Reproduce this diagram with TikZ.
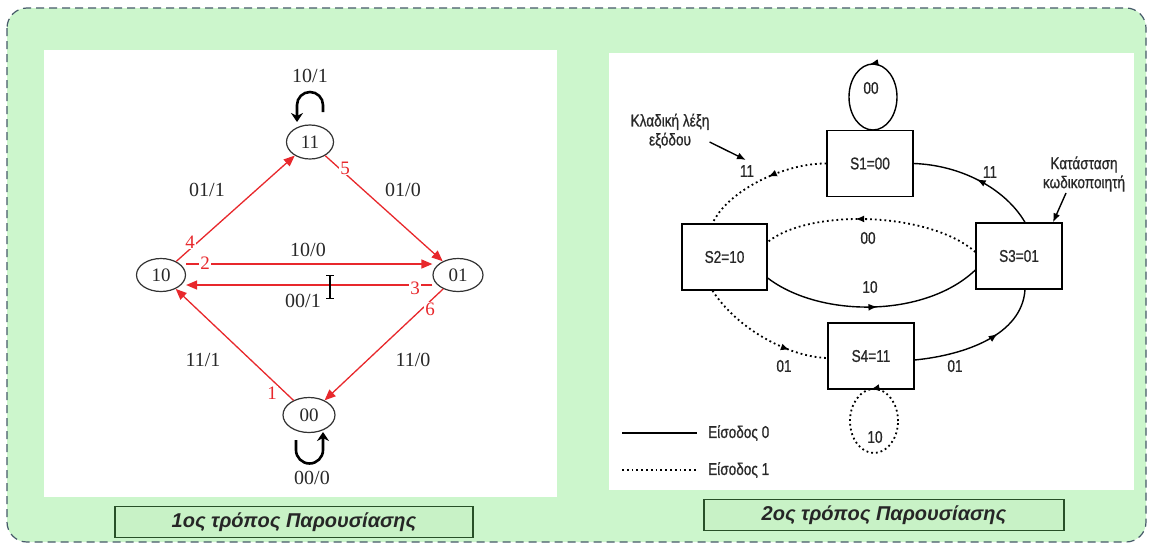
\documentclass[tikz,border=0pt]{standalone}
\usepackage{fontspec}
\setmainfont{Liberation Serif}
\newfontfamily\nar[FakeStretch=0.8,FakeBold=0.8]{Liberation Sans}
\newfontfamily\capf{Liberation Sans}
\usetikzlibrary{shapes.geometric,arrows.meta,decorations.markings,calc}
\definecolor{bggreen}{RGB}{204,246,204}
\definecolor{capgreen}{RGB}{200,242,198}
\definecolor{capedge}{RGB}{40,80,40}
\definecolor{frameclr}{RGB}{70,90,105}
\definecolor{myred}{RGB}{232,40,44}
\definecolor{lblc}{RGB}{40,40,40}
\tikzset{
  st/.style={ellipse, draw=black!80, line width=1.2pt, minimum width=49pt, minimum height=33pt, inner sep=0pt, font=\fontsize{19}{21}\selectfont, text=lblc},
  redarr/.style={draw=myred, line width=1.3pt, -{Triangle[length=11pt,width=9pt]}},
  rnum/.style={text=myred, fill=white, inner sep=1pt, font=\fontsize{19}{21}\selectfont},
  elbl/.style={text=lblc, font=\fontsize{20}{22}\selectfont},
  loopl/.style={line width=2.6pt, -{Stealth[length=9pt,width=12pt]}},
  sbox/.style={draw, line width=1.3pt, fill=white, minimum width=86pt, minimum height=66pt, inner sep=0pt, text=lblc, font=\nar\fontsize{17}{19}\selectfont},
  rlbl/.style={text=lblc, font=\nar\fontsize{17}{19}\selectfont},
  solidE/.style={line width=1.4pt},
  dotE/.style={line width=1.8pt, dash pattern=on 1.8pt off 3pt},
  midarr/.style={postaction={decorate}, decoration={markings, mark=at position #1 with {\arrow{Latex[length=9pt,width=7pt]}}}},
  capbox/.style={draw=capedge, line width=1.2pt, fill=capgreen, inner sep=0pt, font=\capf\bfseries\itshape\fontsize{20}{22}\selectfont, text=black!85}
}
\begin{document}
\begin{tikzpicture}[x=1pt,y=-1pt]
\useasboundingbox (0,0) rectangle (1151,544);
\fill[white] (0,0) rectangle (1151,544);
% outer frame
\draw[frameclr, line width=1.2pt, dash pattern=on 8pt off 5pt, fill=bggreen, rounded corners=20pt] (7,8) rectangle (1146,542);
% panels
\fill[white] (44,50) rectangle (557,497);
\fill[white] (609,53) rectangle (1134,490);
% captions
\node[capbox, minimum width=358pt, minimum height=31pt] (cap1) at (294,522) {1ος τρόπος Παρουσίασης};
\node[capbox, minimum width=360pt, minimum height=31pt] (cap2) at (884,515) {2ος τρόπος Παρουσίασης};

% ---------- left diagram ----------
\node[st, minimum width=47pt, minimum height=34pt] (n11) at (310,142) {11};
\node[st] (n10) at (161,275) {10};
\node[st, minimum width=50pt] (n01) at (458,275) {01};
\node[st, minimum width=52pt, minimum height=35pt] (n00) at (309,415) {00};

\draw[redarr] (n10) -- (n11);
\draw[redarr] (n11) -- (n01);
\draw[redarr] ([yshift=11pt]n10.east) -- ([yshift=11pt]n01.west);
\draw[redarr] ([yshift=-10pt]n01.west) -- ([yshift=-10pt]n10.east);
\draw[redarr] (n00) -- (n10);
\draw[redarr] (n01) -- (n00);

\node[rnum] (r4) at (190,242) {4};
\node[rnum] (r5) at (345,168) {5};
\node[rnum] (r2) at (205,263) {2};
\node[rnum] (r3) at (415,288) {3};
\node[rnum] (r1) at (272,393) {1};
\node[rnum] (r6) at (430,309) {6};

\node[elbl] (l11) at (310,76) {10/1};
\node[elbl] (l41) at (207,190) {01/1};
\node[elbl] (l50) at (403,190) {01/0};
\node[elbl] (l20) at (308,250) {10/0};
\node[elbl] (l31) at (303,301) {00/1};
\node[elbl] (l61) at (203,360) {11/1};
\node[elbl] (l60) at (413,360) {11/0};
\node[elbl] (l00) at (312,478) {00/0};

% self loops
\coordinate (a11) at (323,112);
\coordinate (b11) at (297,122);
\draw[loopl] (a11) -- (323,105) arc[start angle=0, end angle=-180, radius=13] -- (b11);
\coordinate (a00) at (296,440);
\coordinate (b00) at (323,432);
\draw[loopl] (a00) -- (296,450) arc[start angle=180, end angle=0, radius=13.5] -- (b00);

% text cursor
\coordinate (ib1) at (330,275);
\coordinate (ib2) at (330,298);
\draw[line width=1.2pt] (ib1) -- (ib2);
\draw[line width=1pt] (326,275) -- (334,275) (326,298) -- (334,298);

% ---------- right diagram ----------
\node[sbox] (s1) at (870,163.5) {S1=00};
\node[sbox, minimum width=85pt] (s2) at (724.5,257) {S2=10};
\node[sbox] (s3) at (1019,256) {S3=01};
\node[sbox] (s4) at (871,356) {S4=11};

% loops
\coordinate (lc1) at (873,97);
\draw[solidE, midarr=0.27] ($(lc1)+(24,0)$) arc[start angle=0, end angle=-360, x radius=24, y radius=33];
\coordinate (lc4) at (874,421);
\draw[dotE, midarr=0.27] ($(lc4)+(24,0)$) arc[start angle=0, end angle=-360, x radius=24, y radius=32];
\node[rlbl] (lp1) at (871,88) {00};
\node[rlbl] (lp4) at (875,437) {10};

% transitions
\draw[dotE, midarr=0.45] (s1.west) .. controls (785,163) and (728,190) .. ([xshift=-12pt]s2.north);
\draw[solidE, midarr=0.5] ([xshift=6pt]s3.north) .. controls (1005,188) and (960,165) .. (s1.east);
\draw[dotE, midarr=0.58] ([yshift=4pt]s3.west) .. controls (930,212) and (810,208) .. ([yshift=15pt]s2.east);
\draw[solidE, midarr=0.52] ([yshift=-21pt]s2.east) .. controls (820,318) and (925,318) .. ([yshift=-14pt]s3.west);
\draw[dotE, midarr=0.72] ([xshift=-12pt]s2.south) .. controls (738,330) and (790,357) .. ([yshift=-2pt]s4.west);
\draw[solidE, midarr=0.62] ([yshift=-4pt]s4.east) .. controls (965,355) and (1022,335) .. ([xshift=6pt]s3.south);

\node[rlbl] (t1) at (747,171) {11};
\node[rlbl] (t2) at (990,172) {11};
\node[rlbl] (t3) at (868,238) {00};
\node[rlbl] (t4) at (870,287) {10};
\node[rlbl] (t5) at (784,366) {01};
\node[rlbl] (t6) at (955,366) {01};

% annotations
\node[rlbl, align=center, inner sep=0pt] (ann1) at (670,131) {Κλαδική λέξη\\εξόδου};
\coordinate (ann1e) at (746,160);
\draw[line width=1.4pt, -{Latex[length=9pt,width=7pt]}] (ann1.east |- 0,142) -- (ann1e);
\node[rlbl, align=center, inner sep=0pt] (ann2) at (1084,174) {Κατάσταση\\κωδικοποιητή};
\draw[line width=1.4pt, -{Latex[length=9pt,width=7pt]}] (1066,193) -- ([xshift=34pt]s3.north);

% legend
\coordinate (lg1a) at (622,433);
\coordinate (lg1b) at (697,433);
\coordinate (lg2a) at (622,470);
\coordinate (lg2b) at (697,470);
\draw[solidE] (lg1a) -- (lg1b);
\draw[dotE] (lg2a) -- (lg2b);
\node[rlbl, anchor=west, inner sep=0pt] (lgt1) at (708,433) {Είσοδος 0};
\node[rlbl, anchor=west, inner sep=0pt] (lgt2) at (708,470) {Είσοδος 1};
\end{tikzpicture}
\end{document}
